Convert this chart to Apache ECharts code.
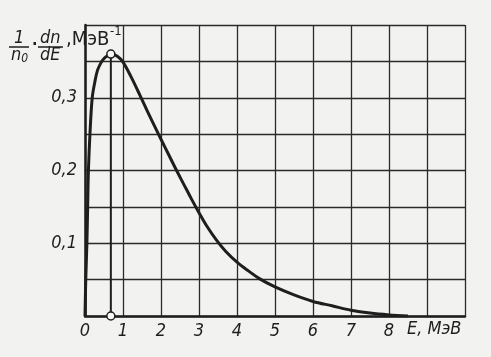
<!DOCTYPE html>
<html><head><meta charset="utf-8">
<script src="https://cdn.jsdelivr.net/npm/echarts@6/dist/echarts.min.js"></script>
<style>html,body{margin:0;padding:0;background:#f2f2f0;}#c{width:491px;height:357px;}</style>
</head><body><div id="c"></div>
<script>
// Energy E, MeV and spectrum (1/n0)(dn/dE), MeV^-1
const energy = [0, 0.02, 0.05, 0.07, 0.09, 0.13, 0.19, 0.26, 0.33, 0.42, 0.5, 0.6, 0.68, 0.85, 1.0, 1.2, 1.45, 1.7, 2.0, 2.2, 2.4, 2.6, 2.8, 3.0, 3.2, 3.45, 3.7, 4.0, 4.3, 4.6, 5.0, 5.5, 6.0, 6.5, 7.0, 7.5, 8.0, 8.5];
const spectrum = [0, 0.05, 0.10, 0.15, 0.20, 0.25, 0.30, 0.322, 0.338, 0.348, 0.354, 0.358, 0.36, 0.357, 0.349, 0.330, 0.303, 0.275, 0.243, 0.222, 0.201, 0.181, 0.161, 0.142, 0.124, 0.105, 0.089, 0.074, 0.062, 0.051, 0.040, 0.029, 0.020, 0.014, 0.008, 0.004, 0.0015, 0];
const peakE = 0.68;
const peakValue = 0.36;
const xTicks = ['0','1','2','3','4','5','6','7','8'];
const yTicks = {0.1:'0,1', 0.2:'0,2', 0.3:'0,3'};
const xUnit = 'E, МэВ';

const ink = '#1e1e1e';
const font = '"DejaVu Sans Condensed","DejaVu Sans",sans-serif';
const chart = echarts.init(document.getElementById('c'));
chart.setOption({
  backgroundColor: '#f2f2f0',
  animation: false,
  grid: {left: 85, right: 26, top: 25, bottom: 41},
  xAxis: {
    type: 'value', min: 0, max: 10, interval: 1,
    axisLine: {show: true, lineStyle: {color: ink, width: 2.5}},
    axisTick: {show: false},
    splitLine: {show: true, lineStyle: {color: '#2a2a2a', width: 1.3}},
    axisLabel: {
      margin: 6, color: ink, fontSize: 18, fontStyle: 'italic', fontFamily: font,
      formatter: v => (v <= 8 ? xTicks[Math.round(v)] : '')
    }
  },
  yAxis: {
    type: 'value', min: 0, max: 0.4, interval: 0.05,
    axisLine: {show: true, lineStyle: {color: ink, width: 2.5}},
    axisTick: {show: false},
    splitLine: {show: true, lineStyle: {color: '#2a2a2a', width: 1.3}},
    axisLabel: {
      margin: 8, color: ink, fontSize: 18, fontStyle: 'italic', fontFamily: font,
      formatter: v => yTicks[Math.round(v * 100) / 100] || ''
    }
  },
  series: [
    {
      type: 'line', smooth: 0.35, showSymbol: false,
      data: energy.map((e, i) => [e, spectrum[i]]),
      lineStyle: {color: ink, width: 3}
    },
    {
      type: 'line', showSymbol: true, symbol: 'circle', symbolSize: 8,
      data: [[peakE, 0], [peakE, peakValue]],
      lineStyle: {color: ink, width: 2},
      itemStyle: {color: '#f7f7f5', borderColor: ink, borderWidth: 1.5},
      z: 5
    }
  ],
  graphic: [
    {type: 'text', left: 407, top: 320, style: {text: xUnit, fill: ink, font: 'italic 18px ' + font}},
    {type: 'text', left: 14, top: 29, style: {text: '1', fill: ink, font: 'italic 18px ' + font}},
    {type: 'line', shape: {x1: 9, y1: 47, x2: 29, y2: 47}, style: {stroke: ink, lineWidth: 1.5}},
    {type: 'text', left: 11, top: 46, style: {
      text: '{a|n}{s|0}', rich: {
        a: {fill: ink, font: 'italic 18px ' + font},
        s: {fill: ink, font: 'italic 12px ' + font, padding: [8, 0, 0, 0]}
      }}},
    {type: 'text', left: 32, top: 37, style: {text: '·', fill: ink, font: 'bold 16px ' + font}},
    {type: 'text', left: 40, top: 29, style: {text: 'dn', fill: ink, font: 'italic 18px ' + font}},
    {type: 'line', shape: {x1: 38, y1: 47, x2: 63, y2: 47}, style: {stroke: ink, lineWidth: 1.5}},
    {type: 'text', left: 40, top: 46, style: {text: 'dE', fill: ink, font: 'italic 18px ' + font}},
    {type: 'text', left: 66, top: 30, style: {text: ',МэВ', fill: ink, font: '20px ' + font}},
    {type: 'text', left: 110, top: 25, style: {text: '-1', fill: ink, font: '13px ' + font}}
  ]
});
</script></body></html>
